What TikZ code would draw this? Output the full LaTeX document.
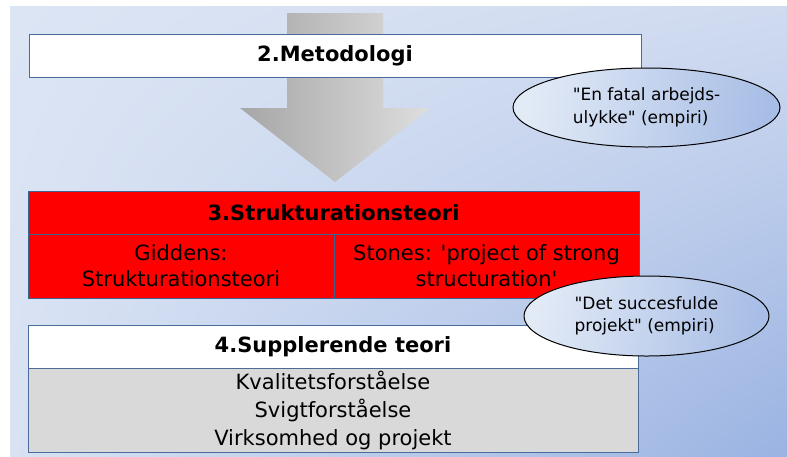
\documentclass[tikz,border=0pt]{standalone}
\usepackage{fontspec}
\setmainfont{DejaVu Sans}
\usetikzlibrary{shapes.geometric,shadings}
\definecolor{bgTL}{HTML}{DCE5F4}
\definecolor{bgTR}{HTML}{D0DBF0}
\definecolor{bgBL}{HTML}{D8E2F3}
\definecolor{bgBR}{HTML}{9AB3E2}
\definecolor{boxline}{HTML}{4A6C9B}
\definecolor{redline}{HTML}{3E6294}
\definecolor{listgray}{HTML}{D9D9D9}
\definecolor{arrL}{HTML}{A6A6A6}
\definecolor{arrR}{HTML}{DEDEDE}
\definecolor{ellL}{HTML}{E2EAF6}
\definecolor{ellR}{HTML}{A8BEE6}
\definecolor{pptred}{HTML}{FF0000}
\font\myquoteS="DejaVu Sans" at 17pt
\font\myquoteL="DejaVu Sans" at 21pt
\newcommand{\dq}{{\myquoteS\char"22}}
\newcommand{\sq}{{\myquoteL\char"27}}
\begin{document}
\begin{tikzpicture}[x=1pt,y=-1pt,
  box/.style={draw=boxline, line width=0.9pt, inner sep=0pt, anchor=center, align=center},
  redbox/.style={box, draw=redline, fill=pptred},
  titlefont/.style={font=\bfseries\fontsize{21}{25}\selectfont},
  bodyfont/.style={font=\fontsize{21}{26}\selectfont},
  listfont/.style={font=\fontsize{21}{28}\selectfont},
  ell/.style={ellipse, draw=black, line width=1pt, inner sep=0pt, left color=ellL, right color=ellR, shading angle=80, align=left, font=\fontsize{17}{22.5}\selectfont}
]
\useasboundingbox (0,0) rectangle (787,456);
\fill[white] (0,0) rectangle (787,456);
\shade[upper left=bgTL, upper right=bgTR, lower left=bgBL, lower right=bgBR] (10,6) rectangle (787,456);
% big gray arrow
\shade[left color=arrL, right color=arrR] (287,13) -- (383,13) -- (383,108) -- (430,108) -- (335,182) -- (240,108) -- (287,108) -- cycle;
% 2. Metodologi
\node[box, fill=white, titlefont, minimum width=612pt, minimum height=43pt] (met) at (335,55.5) {2.Metodologi};
% 3. Strukturationsteori
\node[redbox, titlefont, minimum width=611pt, minimum height=43pt] (struk) at (333.5,212.5) {3.Strukturationsteori};
\node[redbox, bodyfont, minimum width=306pt, minimum height=64pt] (gid) at (181,266) {Giddens:\\Strukturationsteori};
\node[redbox, bodyfont, minimum width=305pt, minimum height=64pt] (sto) at (486.5,266) {Stones: \sq project of strong\\structuration\sq};
% 4. Supplerende teori
\node[box, fill=white, titlefont, minimum width=610pt, minimum height=43pt] (sup) at (333,346.5) {4.Supplerende teori};
\node[box, fill=listgray, listfont, minimum width=610pt, minimum height=84pt] (list) at (333,410.5) {Kvalitetsforståelse\\Svigtforståelse\\Virksomhed og projekt};
% ellipses
\node[ell, minimum width=267pt, minimum height=79pt] (emp1) at (646.5,107.5) {\dq En fatal arbejds-\\ulykke\dq{} (empiri)};
\node[ell, minimum width=245pt, minimum height=80pt] (emp2) at (646.5,316) {\dq Det succesfulde\\projekt\dq{} (empiri)};
\end{tikzpicture}
\end{document}
